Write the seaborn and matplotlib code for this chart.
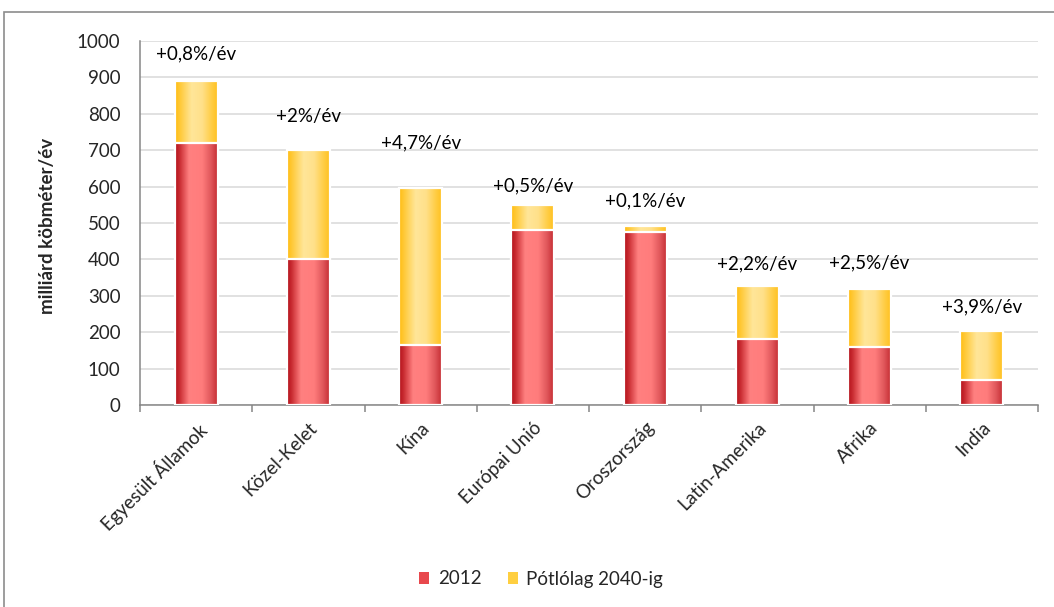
import numpy as np
import pandas as pd
import matplotlib
matplotlib.use("Agg")
import matplotlib.pyplot as plt
import seaborn as sns
from matplotlib.colors import LinearSegmentedColormap
from matplotlib.patches import Patch, Rectangle

# Gas demand by region: 2012 level and additional demand up to 2040
regions = ["Egyesült Államok", "Közel-Kelet", "Kína", "Európai Unió",
           "Oroszország", "Latin-Amerika", "Afrika", "India"]
demand_2012 = [720, 400, 165, 480, 475, 180, 160, 70]
extra_2040 = [170, 300, 432, 70, 18, 148, 160, 133]
growth_labels = ["+0,8%/év", "+2%/év", "+4,7%/év", "+0,5%/év",
                 "+0,1%/év", "+2,2%/év", "+2,5%/év", "+3,9%/év"]
y_ticks = [0, 100, 200, 300, 400, 500, 600, 700, 800, 900, 1000]
series_names = ["2012", "Pótlólag 2040-ig"]

# vertical lift (pixels) of each growth label above its bar
label_lift = [27, 34, 45, 19, 25, 22, 26, 24]

df = pd.DataFrame({
    "region": regions,
    "base": demand_2012,
    "extra": extra_2040,
})
df["total"] = df["base"] + df["extra"]

sns.set_theme(style="white")
plt.rcParams["font.family"] = ["Lato", "DejaVu Sans"]

DPI = 100
FS = 13.5
fig = plt.figure(figsize=(10.54, 6.07), dpi=DPI)
ax = fig.add_axes([140 / 1054, 1 - 405 / 607, 898 / 1054, 364 / 607])

red_main = "#E8484D"
yellow_main = "#FFCF40"
bar_w = 0.385

sns.barplot(data=df, x="region", y="total", color=yellow_main, width=bar_w,
            saturation=1, ax=ax, order=regions)
n_yellow = len(ax.patches)
sns.barplot(data=df, x="region", y="base", color=red_main, width=bar_w,
            saturation=1, ax=ax, order=regions)

red_cmap = LinearSegmentedColormap.from_list("redbar", [
    (0.0, "#B3121A"), (0.10, "#C82A30"), (0.32, "#FF8080"),
    (0.62, "#FF7C7C"), (0.82, "#E0575B"), (1.0, "#C1262C")])
yellow_cmap = LinearSegmentedColormap.from_list("yellowbar", [
    (0.0, "#FFBD10"), (0.12, "#FFCA3A"), (0.38, "#FFE699"),
    (0.62, "#FFE08A"), (0.85, "#FFCC40"), (1.0, "#FFBF1A")])
grad = np.linspace(0, 1, 256)

for i, p in enumerate(ax.patches):
    cmap = yellow_cmap if i < n_yellow else red_cmap
    z = 2 if i < n_yellow else 3
    x0, y0 = p.get_x(), p.get_y()
    w, h = p.get_width(), p.get_height()
    img = cmap(grad)[np.newaxis, :, :]
    ax.imshow(img, extent=[x0, x0 + w, y0, y0 + h], aspect="auto",
              interpolation="bicubic", zorder=z)
    p.set_facecolor("none")
    p.set_edgecolor("white")
    p.set_linewidth(1.6)
    p.set_zorder(z + 0.5)

ax.set_xlim(-0.5, len(regions) - 0.5)
ax.set_ylim(0, 1000)
ax.set_aspect("auto")

# growth rate labels above each stacked bar
for i, (tot, lab, lift) in enumerate(zip(df["total"], growth_labels, label_lift)):
    ax.annotate(lab, (i, tot), xytext=(0, lift * 72 / DPI),
                textcoords="offset points", ha="center", va="center",
                fontsize=FS, color="black", zorder=6)

# axes styling
ax.set_yticks(y_ticks)
ax.set_yticklabels([str(v) for v in y_ticks], fontsize=FS)
ax.yaxis.grid(True, color="#D9D9D9", linewidth=1.1)
ax.set_axisbelow(True)
ax.tick_params(axis="y", length=0, pad=14)
ax.set_xticks(range(len(regions)))
ax.set_xticklabels(regions, rotation=45, ha="right", rotation_mode="anchor",
                   fontsize=FS)
ax.tick_params(axis="x", which="major", length=0, pad=10)
ax.set_xticks(np.arange(-0.5, len(regions), 1.0), minor=True)
ax.tick_params(axis="x", which="minor", length=5, width=1.1,
               color="#868686", direction="out", bottom=True)
ax.set_xlabel("")
ax.set_ylabel("")
for side in ("top", "right"):
    ax.spines[side].set_visible(False)
for side in ("left", "bottom"):
    ax.spines[side].set_color("#868686")
    ax.spines[side].set_linewidth(1.1)

fig.text(48 / 1054, 1 - 226 / 607, "milliárd köbméter/év", rotation=90,
         ha="center", va="center", fontsize=FS, fontweight="bold")

handles = [Patch(facecolor=red_main, edgecolor="none", label=series_names[0]),
           Patch(facecolor=yellow_main, edgecolor="none", label=series_names[1])]
fig.legend(handles=handles, loc="center", bbox_to_anchor=(541 / 1054, 1 - 579 / 607),
           ncol=2, frameon=False, fontsize=FS, handlelength=0.55,
           handleheight=0.55, handletextpad=0.45, columnspacing=1.4)

# chart area frame
fig.patches.append(Rectangle((4 / 1054, -0.05), 1.2, 1 - 12 / 607 + 0.05,
                             transform=fig.transFigure, fill=False,
                             edgecolor="#8C8C8C", linewidth=1.2, zorder=0))

fig.savefig("out.png", dpi=DPI)
